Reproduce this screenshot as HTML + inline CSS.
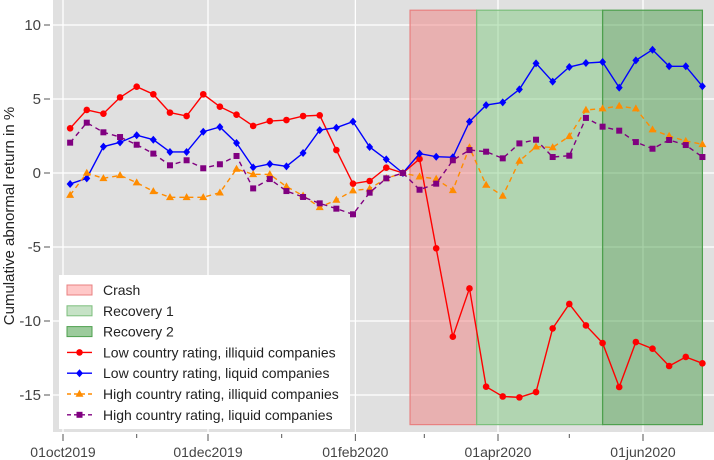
<!DOCTYPE html>
<html><head><meta charset="utf-8"><style>
body{margin:0;background:#fff;}
svg{display:block;font-family:"Liberation Sans",Arial,sans-serif;}
</style></head><body>
<svg id="chart" width="714" height="460" viewBox="0 0 714 460">
<rect x="53" y="0" width="661" height="432" fill="#e0e0e0"/>
<g id="grid"></g><g id="regions"></g><g id="series"></g><g id="axes"></g><g id="legend"></g>
<text transform="translate(14,216) rotate(-90)" text-anchor="middle" font-size="15" fill="#222">Cumulative abnormal return in %</text>
</svg>
<script>
const lowIlliquid=[3.02,4.26,4.01,5.11,5.83,5.32,4.08,3.85,5.32,4.48,3.94,3.18,3.51,3.58,3.85,3.9,1.55,-0.72,-0.54,0.36,0,0.95,-5.09,-11.06,-7.8,-14.44,-15.1,-15.16,-14.8,-10.5,-8.85,-10.3,-11.49,-14.46,-11.42,-11.87,-13.04,-12.43,-12.86];
const lowLiquid=[-0.74,-0.36,1.78,2.07,2.55,2.25,1.42,1.42,2.79,3.11,2.03,0.38,0.61,0.45,1.35,2.9,3.06,3.47,1.76,0.92,0,1.31,1.1,1.06,3.47,4.59,4.77,5.65,7.41,6.17,7.16,7.43,7.5,5.77,7.61,8.33,7.21,7.21,5.86];
const highIlliquid=[-1.49,0,-0.36,-0.16,-0.65,-1.24,-1.64,-1.64,-1.64,-1.33,0.27,-0.09,-0.09,-0.92,-1.53,-2.32,-1.82,-1.19,-1.06,-0.36,0,-0.25,-0.4,-1.17,1.73,-0.81,-1.55,0.81,1.78,1.73,2.48,4.26,4.35,4.53,4.35,2.93,2.5,2.16,1.94];
const highLiquid=[2.05,3.4,2.75,2.43,1.91,1.31,0.52,0.86,0.32,0.59,1.15,-1.04,-0.41,-1.22,-1.62,-2.05,-2.41,-2.79,-1.33,-0.36,0,-1.13,-0.72,0.86,1.55,1.44,0.99,2.0,2.25,1.08,1.17,3.72,3.13,2.86,2.09,1.64,2.23,1.89,1.08];
const firstDate="2019-10-04";
const yTicks=[10,5,0,-5,-10,-15];
const majorTicks=["2019-10-01","2019-12-01","2020-02-01","2020-04-01","2020-06-01"];
const majorLabels=["01oct2019","01dec2019","01feb2020","01apr2020","01jun2020"];
const minorTicks=["2019-11-01","2020-01-01","2020-03-01","2020-05-01"];
const regionNames=["Crash","Recovery 1","Recovery 2"];
const regionStart=["2020-02-24","2020-03-23","2020-05-15"];
const regionEnd=["2020-03-23","2020-05-15","2020-06-26"];
const regionTop=11, regionBottom=-17;

const NS="http://www.w3.org/2000/svg";
const origin=Date.UTC(2019,9,1);
function days(s){const p=s.split("-");return (Date.UTC(+p[0],p[1]-1,+p[2])-origin)/86400000;}
function xd(s){return 63+days(s)*2.377;}
function xi(i){return 63+(days(firstDate)+7*i)*2.377;}
function y(v){return 173-v*14.8;}
function el(tag,attrs,parent){const e=document.createElementNS(NS,tag);for(const k in attrs)e.setAttribute(k,attrs[k]);parent.appendChild(e);return e;}

const grid=document.getElementById("grid");
yTicks.forEach(v=>{const l=el("line",{x1:53,x2:714,y1:y(v),y2:y(v),stroke:"#fff","stroke-width":1.3},grid);

});
majorTicks.forEach(d=>{const l=el("line",{x1:xd(d),x2:xd(d),y1:0,y2:432,stroke:"#fff","stroke-width":1.3},grid);

});

const reg=document.getElementById("regions");
const rFill=["rgba(240,128,128,0.5)","rgba(120,200,120,0.45)","rgba(60,150,60,0.45)"];
const rStroke=["#e88080","#7cbf7c","#4ea04e"];
regionNames.forEach((n,i)=>{const r=el("rect",{x:xd(regionStart[i]),y:y(regionTop),width:xd(regionEnd[i])-xd(regionStart[i]),height:y(regionBottom)-y(regionTop),fill:rFill[i],stroke:rStroke[i],"stroke-width":1.2},reg);

});

const ser=document.getElementById("series");
const S=[{d:lowIlliquid,c:"#ff0000",dash:"",m:"circle",n:"low-illiquid"},{d:lowLiquid,c:"#0000ff",dash:"",m:"diamond",n:"low-liquid"},{d:highIlliquid,c:"#ff8c00",dash:"5,4",m:"triangle",n:"high-illiquid"},{d:highLiquid,c:"#800080",dash:"5,4",m:"square",n:"high-liquid"}];
function marker(m,cx,cy,c,parent){
 if(m==="circle")return el("circle",{cx:cx,cy:cy,r:3.3,fill:c},parent);
 if(m==="diamond")return el("path",{d:`M${cx},${cy-4}L${cx+3.5},${cy}L${cx},${cy+4}L${cx-3.5},${cy}Z`,fill:c},parent);
 if(m==="triangle")return el("path",{d:`M${cx},${cy-4.2}L${cx+4},${cy+2.8}L${cx-4},${cy+2.8}Z`,fill:c},parent);
 return el("rect",{x:cx-3,y:cy-3,width:6,height:6,fill:c},parent);
}
S.forEach(s=>{
 const p=el("polyline",{points:s.d.map((v,i)=>xi(i)+","+y(v)).join(" "),fill:"none",stroke:s.c,"stroke-width":1.4,"stroke-dasharray":s.dash},ser);
 
 
 s.d.forEach((v,i)=>{const mk=marker(s.m,xi(i),y(v),s.c,ser);
  
  });
});

const ax=document.getElementById("axes");
yTicks.forEach(v=>{const t=el("line",{x1:44,x2:50,y1:y(v),y2:y(v),stroke:"#555"},ax);


const tx=el("text",{x:41,y:y(v)+5,"text-anchor":"end","font-size":15,fill:"#444"},ax);tx.textContent=v;

});
majorTicks.forEach((d,i)=>{const t=el("line",{x1:xd(d),x2:xd(d),y1:434,y2:441,stroke:"#555"},ax);


const tx=el("text",{x:xd(d),y:457,"text-anchor":"middle","font-size":14,fill:"#444"},ax);tx.textContent=majorLabels[i];

});
minorTicks.forEach(d=>{const t=el("line",{x1:xd(d),x2:xd(d),y1:434,y2:438,stroke:"#555"},ax);

});

const lg=document.getElementById("legend");
const box=el("rect",{x:59,y:275,width:291,height:154,fill:"#fff"},lg);


const labels=["Crash","Recovery 1","Recovery 2","Low country rating, illiquid companies","Low country rating, liquid companies","High country rating, illiquid companies","High country rating, liquid companies"];
labels.forEach((t,i)=>{
 const cy=290+i*20.8;
 const g=el("g",{},lg);
 
 
 if(i<3){el("rect",{x:67,y:cy-5,width:25,height:10,fill:["#ffc8c8","#c6e2c6","#9ccb9c"][i],stroke:rStroke[i]},g);}
 else{const s=S[i-3];el("line",{x1:67,x2:92,y1:cy,y2:cy,stroke:s.c,"stroke-width":1.4,"stroke-dasharray":s.dash?"4,3":""},g);marker(s.m,79.5,cy,s.c,g);}
 const tx=el("text",{x:103,y:cy+5,"font-size":14,fill:"#222"},g);tx.textContent=t;
});
</script>
</body></html>
